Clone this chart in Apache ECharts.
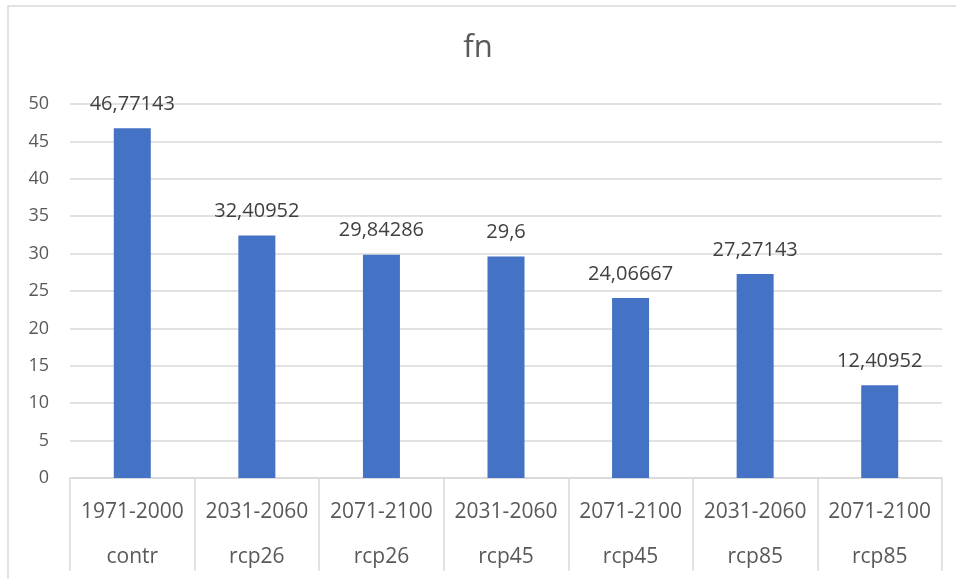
<!DOCTYPE html>
<html>
<head>
<meta charset="utf-8">
<script src="https://cdn.jsdelivr.net/npm/echarts@6/dist/echarts.min.js"></script>
<style>
  html, body { margin: 0; padding: 0; background: #fff; }
  #chart { width: 956px; height: 579px; }
</style>
</head>
<body>
<div id="chart"></div>
<script>
// Periods (first label row) and scenarios (second label row)
const periods = ['1971-2000', '2031-2060', '2071-2100', '2031-2060', '2071-2100', '2031-2060', '2071-2100'];
const scenarios = ['contr', 'rcp26', 'rcp26', 'rcp45', 'rcp45', 'rcp85', 'rcp85'];
const fnValues = [46.77143, 32.40952, 29.84286, 29.6, 24.06667, 27.27143, 12.40952];

const FONT = '"Open Sans", "Noto Sans", sans-serif';
const GRID_COLOR = '#d9d9d9';

const chart = echarts.init(document.getElementById('chart'), null, { renderer: 'canvas' });

chart.setOption({
  animation: false,
  backgroundColor: '#ffffff',
  title: {
    text: 'fn',
    left: 'center',
    top: 28,
    textStyle: { fontFamily: FONT, fontSize: 31, fontWeight: 'normal', color: '#595959' }
  },
  graphic: [{
    type: 'rect',
    shape: { x: 8, y: 6, width: 1000, height: 1000 },
    style: { fill: 'none', stroke: GRID_COLOR, lineWidth: 1.5 },
    silent: true
  }],
  grid: { left: 70, right: 14, top: 104, bottom: 101 },
  xAxis: [{
    type: 'category',
    data: periods,
    position: 'bottom',
    axisLine: { show: true, lineStyle: { color: GRID_COLOR, width: 1.5 } },
    axisTick: { show: true, length: 93, lineStyle: { color: GRID_COLOR, width: 1.5 } },
    axisLabel: {
      interval: 0, margin: 23, fontFamily: FONT, fontSize: 21, color: '#595959', lineHeight: 22
    }
  }, {
    type: 'category',
    data: scenarios,
    position: 'bottom',
    axisLine: { show: false },
    axisTick: { show: false },
    axisLabel: {
      interval: 0, margin: 68, fontFamily: FONT, fontSize: 21, color: '#595959', lineHeight: 22
    }
  }],
  yAxis: {
    type: 'value',
    min: 0,
    max: 50,
    interval: 5,
    axisLine: { show: false },
    axisTick: { show: false },
    splitLine: { lineStyle: { color: GRID_COLOR, width: 1.5 } },
    axisLabel: { margin: 21, fontFamily: FONT, fontSize: 18, color: '#595959' }
  },
  series: [{
    type: 'bar',
    xAxisIndex: 0,
    data: fnValues,
    barWidth: 37,
    itemStyle: { color: '#4472C4' },
    label: {
      show: true,
      position: 'top',
      distance: 14,
      fontFamily: FONT,
      fontSize: 20,
      color: '#404040',
      formatter: p => String(p.value).replace('.', ',')
    }
  }]
});
</script>
</body>
</html>
